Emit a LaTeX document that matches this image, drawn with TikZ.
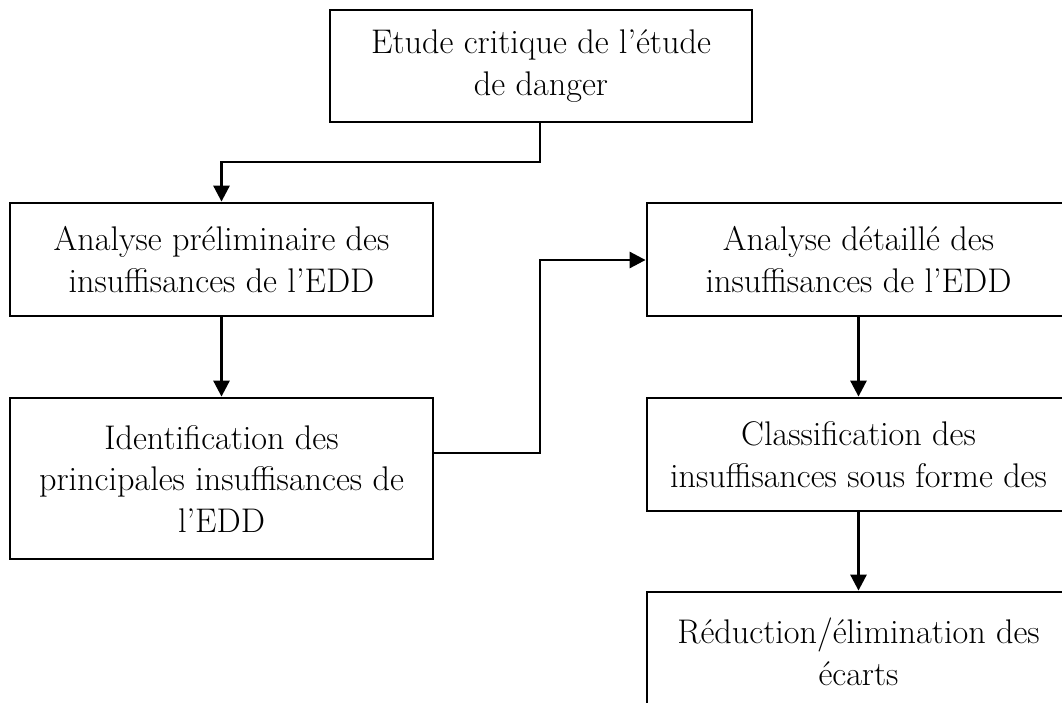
\documentclass[tikz,border=0pt]{standalone}
\usetikzlibrary{arrows.meta,calc}
\begin{document}
\begin{tikzpicture}[x=1pt,y=-1pt,
  box/.style={draw,line width=2.8pt,minimum width=423pt,minimum height=113pt,
    inner sep=0pt,align=center,font=\fontsize{34.2}{41.5}\selectfont},
  arr/.style={line width=2.8pt,-{Triangle[length=16pt,width=16pt]}}]
\useasboundingbox (0,0) rectangle (1062,702);
\clip (0,0) rectangle (1062,702);
\fill[white] (0,0) rectangle (1062,702);

\node[box,minimum width=422pt,minimum height=112pt] (top) at (541,66) {Etude critique de l’étude\\de danger};
\node[box] (L1) at (221.5,259.5) {Analyse préliminaire des\\insuffisances de l’EDD};
\node[box,minimum height=161pt] (L2) at (221.5,478.5) {Identification des\\principales insuffisances de\\l’EDD};
\node[box] (R1) at (858.5,259.5) {Analyse détaillé des\\insuffisances de l’EDD};
\node[box] (R2) at (858.5,454.5) {Classification des\\insuffisances sous forme des};
\node[box,minimum height=120pt] (R3) at (858.5,652) {Réduction/élimination des\\écarts};

\coordinate (bend1) at (540,162);
\draw[arr] (top.south -| bend1) -- (bend1) -| (L1.north);
\draw[arr] (L1.south) -- (L2.north);
\coordinate (exitL2) at ([yshift=25.5pt]L2.east);
\coordinate (bend2) at (540,260);
\draw[arr] (exitL2) -| (bend2) -- (bend2 -| R1.west);
\draw[arr] (R1.south) -- (R2.north);
\draw[arr] (R2.south) -- (R3.north);
\end{tikzpicture}
\end{document}
